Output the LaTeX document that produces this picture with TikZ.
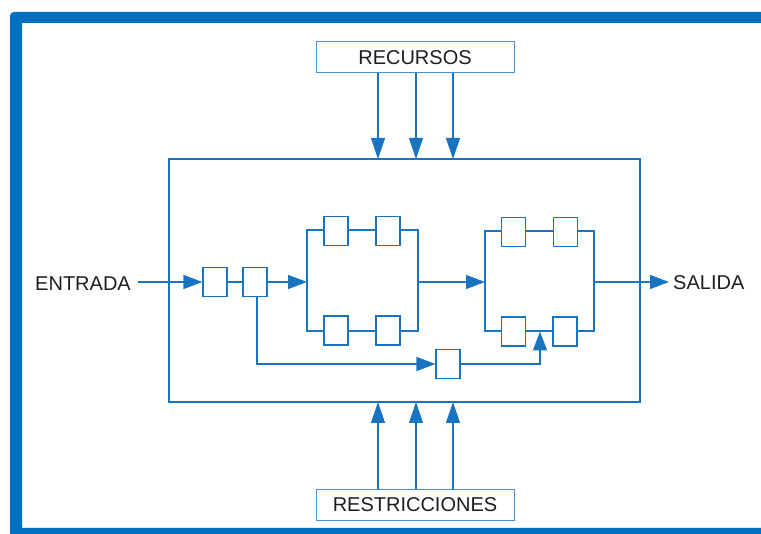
\documentclass[tikz,border=0pt]{standalone}
\usepackage{fontspec}
\setmainfont{Liberation Sans}
\usetikzlibrary{arrows.meta}
\definecolor{frameblue}{HTML}{0070C0}
\definecolor{lineblue}{HTML}{1874C0}
\definecolor{txt}{HTML}{1E1E1E}
\tikzset{
  ln/.style={draw=lineblue, line width=1.2pt},
  arr/.style={ln, -{Triangle[length=19pt,width=14pt]}},
  varr/.style={ln, -{Triangle[length=21pt,width=14pt]}},
  sbox/.style={draw=lineblue, line width=1.2pt, fill=white, minimum width=24pt, minimum height=29pt, inner sep=0pt},
  bigbox/.style={draw=lineblue!80, line width=1pt, minimum width=198pt, minimum height=31pt, inner sep=0pt, font=\fontsize{20}{22}\selectfont, text=txt},
  lbl/.style={font=\fontsize{20}{22}\selectfont, text=txt, inner sep=0pt}
}
\begin{document}
\begin{tikzpicture}[x=1pt,y=-1pt]
\useasboundingbox (0,0) rectangle (761,534);
\clip (0,0) rectangle (761,534);
% frame
\fill[frameblue, even odd rule, rounded corners=4pt] (10,12) rectangle (800,560)
  {[sharp corners] (22,23) rectangle (800,528)};
% main box
\node[draw=lineblue, line width=1.2pt, minimum width=471pt, minimum height=243pt, inner sep=0pt] (main) at (404.5,280.5) {};
% top and bottom boxes
\node[bigbox] (rec) at (415,57.5) {RECURSOS};
\node[bigbox] (res) at (415,505) {RESTRICCIONES};
\foreach \xx/\i in {378/1,416/2,453/3}{
  \coordinate (rt\i) at (\xx,73);
  \coordinate (mt\i) at (\xx,159);
  \coordinate (rb\i) at (\xx,489);
  \coordinate (mb\i) at (\xx,402);
  \draw[varr] (rt\i) -- (mt\i);
  \draw[varr] (rb\i) -- (mb\i);
}
% labels
\node[lbl, anchor=east] (ent) at (131,284) {ENTRADA};
\node[lbl, anchor=west] (sal) at (673,283) {SALIDA};
% input chain
\node[sbox] (b1) at (215,282) {};
\node[sbox] (b2) at (255,282) {};
\coordinate (entE) at (138,282);
\draw[arr] (entE) -- (b1.west);
\draw[ln] (b1.east) -- (b2.west);
% parallel block 1
\coordinate (p1L) at (307,282);
\coordinate (p1R) at (418,282);
\coordinate (p1TL) at (307,230);
\coordinate (p1BL) at (307,331);
\coordinate (p1TR) at (418,230);
\coordinate (p1BR) at (418,331);
\node[sbox] (a1) at (336,231) {};
\node[sbox] (a2) at (388,231) {};
\node[sbox] (a3) at (336,330.5) {};
\node[sbox] (a4) at (388,330.5) {};
\draw[arr] (b2.east) -- (p1L);
\draw[ln] (p1TL -| a1.west) -- (p1TL) -- (p1BL) -- (p1BL -| a3.west);
\draw[ln] (p1TL -| a1.east) -- (p1TL -| a2.west);
\draw[ln] (p1BL -| a3.east) -- (p1BL -| a4.west);
\draw[ln] (p1TR -| a2.east) -- (p1TR) -- (p1BR) -- (p1BR -| a4.east);
% parallel block 2
\coordinate (p2L) at (485,282);
\coordinate (p2R) at (594,282);
\coordinate (p2TL) at (485,231);
\coordinate (p2BL) at (485,331);
\coordinate (p2TR) at (594,231);
\coordinate (p2BR) at (594,331);
\node[sbox] (c1) at (513.5,232) {};
\node[sbox] (c2) at (565.5,232) {};
\node[sbox] (c3) at (513.5,331.5) {};
\node[sbox] (c4) at (565,331.5) {};
\draw[arr] (p1R) -- (p2L);
\draw[ln] (p2TL -| c1.west) -- (p2TL) -- (p2BL) -- (p2BL -| c3.west);
\draw[ln] (p2TL -| c1.east) -- (p2TL -| c2.west);
\draw[ln] (p2BL -| c3.east) -- (p2BL -| c4.west);
\draw[ln] (p2TR -| c2.east) -- (p2TR) -- (p2BR) -- (p2BR -| c4.east);
% output
\coordinate (outT) at (669,282);
\draw[arr] (p2R) -- (outT);
% feedback
\node[sbox] (fb) at (448,364) {};
\coordinate (fbc) at (257,364);
\coordinate (fup) at (540,364);
\coordinate (ftip) at (540,331.5);
\draw[arr] (b2.south -| fbc) -- (fbc) -- (fb.west);
\draw[arr] (fb.east) -- (fup) -- (ftip);
\end{tikzpicture}
\end{document}
